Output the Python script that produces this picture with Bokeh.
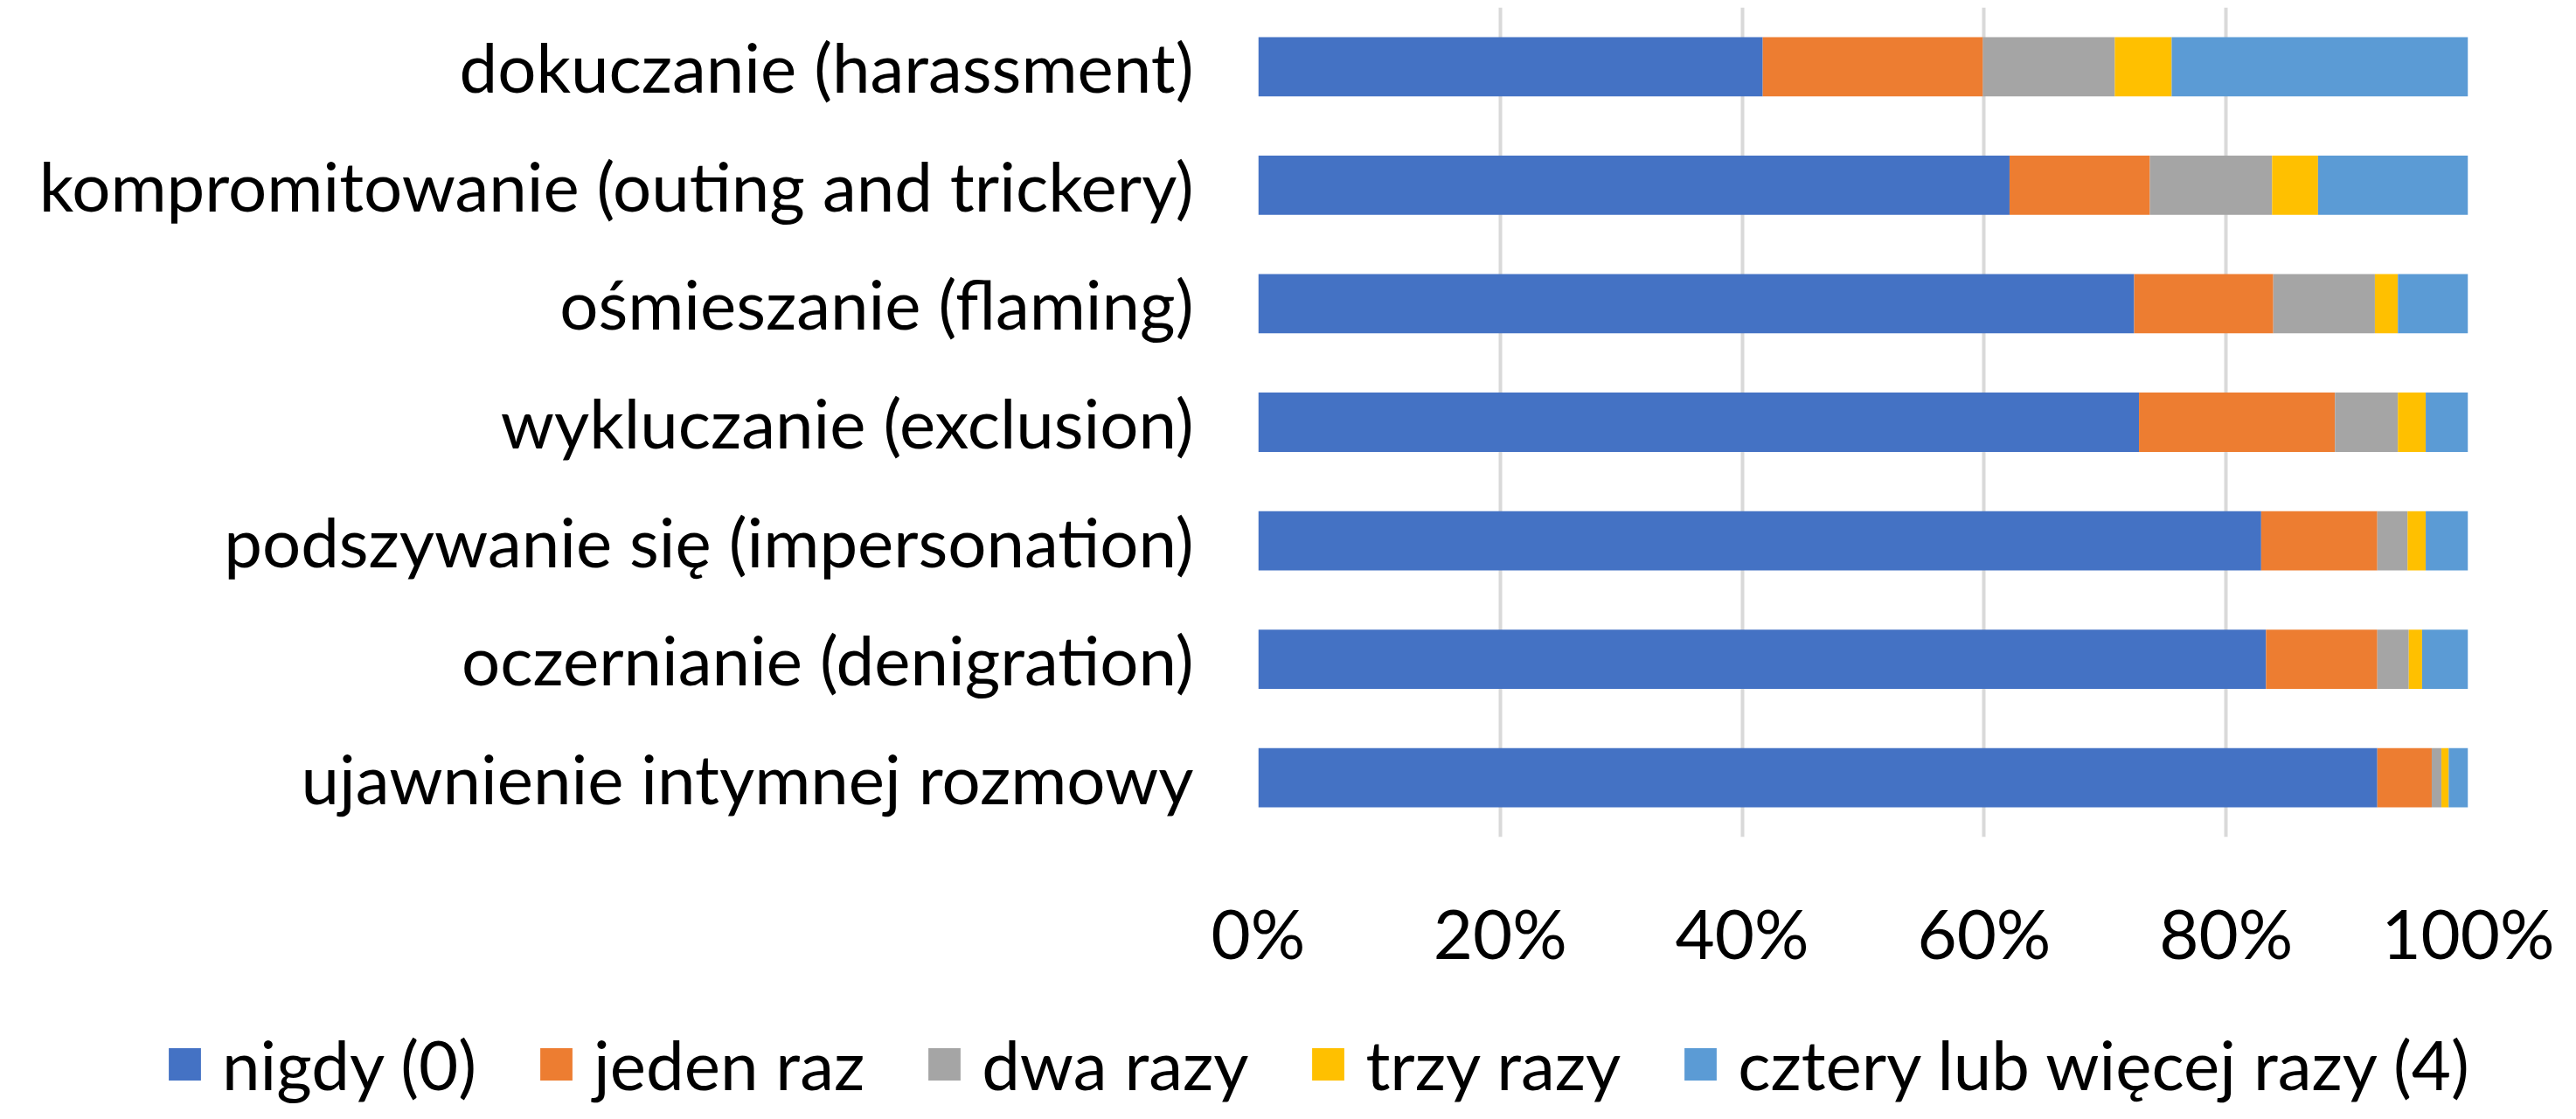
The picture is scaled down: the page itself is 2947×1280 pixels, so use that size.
from bokeh.plotting import figure
from bokeh.models import ColumnDataSource, FixedTicker, Legend, LegendItem, FactorRange, Range1d
from bokeh.layouts import column
from bokeh.embed import file_html
from bokeh.resources import INLINE

categories = [
    "dokuczanie (harassment)",
    "kompromitowanie (outing and trickery)",
    "ośmieszanie (flaming)",
    "wykluczanie (exclusion)",
    "podszywanie się (impersonation)",
    "oczernianie (denigration)",
    "ujawnienie intymnej rozmowy",
]
series_names = ["nigdy (0)", "jeden raz", "dwa razy", "trzy razy", "cztery lub więcej razy (4)"]
nigdy = [41.7, 62.1, 72.4, 72.8, 82.9, 83.3, 92.5]
jeden_raz = [18.2, 11.6, 11.5, 16.2, 9.6, 9.2, 4.5]
dwa_razy = [10.9, 10.1, 8.4, 5.2, 2.5, 2.6, 0.8]
trzy_razy = [4.7, 3.8, 1.9, 2.3, 1.5, 1.1, 0.6]
cztery = [24.5, 12.4, 5.8, 3.5, 3.5, 3.8, 1.7]
x_ticks = [0, 20, 40, 60, 80, 100]
x_tick_labels = ["0%", "20%", "40%", "60%", "80%", "100%"]
colors = ["#4472C4", "#ED7D31", "#A5A5A5", "#FFC000", "#5B9BD5"]

keys = ["s0", "s1", "s2", "s3", "s4"]
source = ColumnDataSource(dict(cat=categories, s0=nigdy, s1=jeden_raz, s2=dwa_razy, s3=trzy_razy, s4=cztery))

FONT = "Lato"
FS = "78px"

p = figure(
    width=2931, height=1144,
    y_range=FactorRange(*list(reversed(categories)), range_padding=0),
    x_range=Range1d(0, 100),
    output_backend="svg", toolbar_location=None,
    min_border_left=1439, min_border_right=108, min_border_top=8, min_border_bottom=187,
    frame_align=False,
)
p.outline_line_color = None

renderers = p.hbar_stack(keys, y="cat", height=0.5, color=colors, source=source, line_color=None)

p.xaxis.ticker = FixedTicker(ticks=x_ticks)
p.xaxis.major_label_overrides = {t: l for t, l in zip(x_ticks, x_tick_labels)}
for ax in (p.xaxis, p.yaxis):
    ax.axis_line_color = None
    ax.major_tick_line_color = None
    ax.minor_tick_line_color = None
    ax.major_tick_out = 0
    ax.major_tick_in = 0
    ax.major_label_text_font = FONT
    ax.major_label_text_font_size = FS
    ax.major_label_text_color = "#000000"
p.yaxis.major_label_standoff = 74
p.xaxis.major_label_standoff = 62

p.xgrid.grid_line_color = "#D9D9D9"
p.xgrid.grid_line_width = 4
p.ygrid.grid_line_color = None

# legend strip
pl = figure(
    width=2931, height=120, x_range=Range1d(0, 1), y_range=Range1d(0, 1),
    output_backend="svg", toolbar_location=None,
    x_axis_location=None, y_axis_location=None,
    min_border_left=0, min_border_right=0, min_border_top=0, min_border_bottom=0,
    frame_align=False,
)
pl.outline_line_color = None
pl.xgrid.visible = False
pl.ygrid.visible = False
dummy = [pl.hbar(y=[-10], left=[0], right=[0], height=0.5, color=c, line_color=None) for c in colors]

legend = Legend(
    items=[LegendItem(label=n, renderers=[r]) for n, r in zip(series_names, dummy)],
    orientation="horizontal", location=(188, 0),
    glyph_width=46, glyph_height=46, label_standoff=20, spacing=68,
    padding=0, margin=0,
    label_text_font=FONT, label_text_font_size=FS, label_text_color="#000000",
    border_line_color=None, background_fill_alpha=0,
)
pl.add_layout(legend, "center")

open("out.html", "w").write(file_html(column(p, pl), INLINE))
